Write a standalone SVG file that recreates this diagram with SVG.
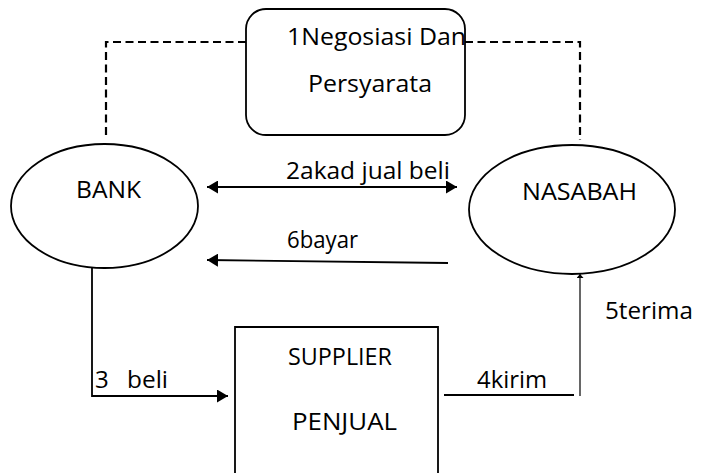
<svg xmlns="http://www.w3.org/2000/svg" width="701" height="473" viewBox="0 0 701 473">
<style>
.shape{fill:#fff;stroke:#000;stroke-width:1.8}
.ln{fill:none;stroke:#000;stroke-width:1.8}
.thin{fill:none;stroke:#000;stroke-width:1.2}
.dash{fill:none;stroke:#000;stroke-width:2.2;stroke-dasharray:8 4.5}
text{font-family:"Open Sans","Liberation Sans",sans-serif;font-size:24px;fill:#000}
</style>
<defs>
<marker id="ah" markerWidth="11" markerHeight="13" refX="11" refY="6.5" orient="auto-start-reverse" markerUnits="userSpaceOnUse">
<path d="M0,0 L11,6.5 L0,13 Z" fill="#000"/>
</marker>
<marker id="ahs" markerWidth="7" markerHeight="5" refX="3.5" refY="0" orient="0" markerUnits="userSpaceOnUse">
<path d="M0,4 L3.5,0 L7,4 Z" fill="#000"/>
</marker>
</defs>
<g id="connectors">
<path class="dash" d="M106,135 V42 H246"/>
<path class="dash" d="M465,42 H580 V140"/>
<line class="ln" x1="207" y1="187" x2="457" y2="187" marker-start="url(#ah)" marker-end="url(#ah)"/>
<line class="ln" x1="448" y1="263" x2="207" y2="260" marker-end="url(#ah)"/>
<path class="ln" d="M92,263 V396 H228" marker-end="url(#ah)"/>
<line class="ln" x1="444" y1="395" x2="574" y2="395"/>
<line class="thin" x1="580" y1="396" x2="580" y2="274" marker-end="url(#ahs)"/>
<text x="286" y="179" textLength="164" lengthAdjust="spacingAndGlyphs">2akad jual beli</text>
<text x="287" y="248" textLength="71" lengthAdjust="spacingAndGlyphs">6bayar</text>
<text x="95" y="388">3</text>
<text x="127" y="388" textLength="41" lengthAdjust="spacingAndGlyphs">beli</text>
<text x="477" y="388" textLength="70" lengthAdjust="spacingAndGlyphs">4kirim</text>
<text x="605" y="319" textLength="88" lengthAdjust="spacingAndGlyphs">5terima</text>
</g>
<g id="negosiasi">
<rect class="shape" x="246" y="9" width="219" height="126" rx="20" ry="20"/>
<text x="287" y="45" textLength="179" lengthAdjust="spacingAndGlyphs">1Negosiasi Dan</text>
<text x="308" y="92" textLength="124" lengthAdjust="spacingAndGlyphs">Persyarata</text>
</g>
<g id="bank">
<ellipse class="shape" cx="104.5" cy="206" rx="93.5" ry="62"/>
<text x="76" y="198" textLength="65" lengthAdjust="spacingAndGlyphs">BANK</text>
</g>
<g id="nasabah">
<ellipse class="shape" cx="572" cy="209.5" rx="103" ry="64.5"/>
<text x="522" y="200" textLength="115" lengthAdjust="spacingAndGlyphs">NASABAH</text>
</g>
<g id="supplier">
<path class="shape" d="M235,480 V327 H438 V480"/>
<text x="288" y="365" textLength="104" lengthAdjust="spacingAndGlyphs">SUPPLIER</text>
<text x="292" y="430" textLength="105" lengthAdjust="spacingAndGlyphs">PENJUAL</text>
</g>
</svg>
